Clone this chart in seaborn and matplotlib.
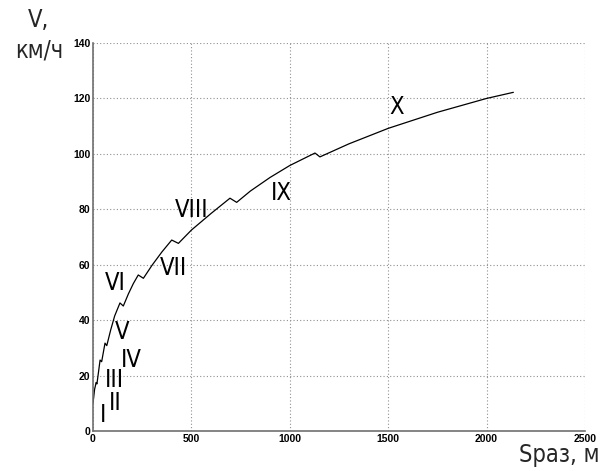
import matplotlib
matplotlib.use("Agg")
import matplotlib.pyplot as plt
from matplotlib import font_manager as fm
import seaborn as sns
import pandas as pd

# Acceleration path: speed vs. distance travelled, with gear-shift dips
distance_m = [0, 8, 16, 20, 36, 44, 61, 70, 90, 110, 137, 154, 180, 205, 230, 256,
              300, 350, 400, 434, 500, 600, 696, 730, 800, 900, 1000, 1128, 1153,
              1300, 1500, 1750, 2000, 2136]
speed_kmh = [10, 15, 17.5, 17, 25.6, 25, 31.7, 30.8, 36.5, 41.5, 46.2, 45.1, 49.5, 53.2,
             56.3, 55.1, 59.8, 64.6, 68.9, 67.7, 72.5, 78.5, 84, 82.5, 86.6, 91.5, 95.8,
             100.3, 98.9, 103.6, 109.2, 115, 120, 122.2]

# Gear labels and where they sit
gear_labels = ["I", "II", "III", "IV", "V", "VI", "VII", "VIII", "IX", "X"]
gear_s = [52, 115, 108, 197, 146, 112, 408, 501, 959, 1543]
gear_v = [5.8, 10, 18.4, 25.6, 35.8, 53.3, 58.7, 79.8, 85.8, 117]

x_ticks = [0, 500, 1000, 1500, 2000, 2500]
y_ticks = [0, 20, 40, 60, 80, 100, 120, 140]

df = pd.DataFrame({"s": distance_m, "v": speed_kmh})

sns.set_style("white")
plt.rcParams["font.family"] = ["Liberation Sans", "DejaVu Sans"]


def narrow_font(size):
    """Pick a narrow/condensed regular face with Cyrillic, if one is installed."""
    prefs = ["Liberation Sans Narrow", "DejaVu Sans", "Roboto Condensed",
             "Open Sans Condensed", "Noto Sans"]
    fonts = [f for f in fm.fontManager.ttflist
             if f.style == "normal" and f.weight in (400, "normal", "regular")]
    for name in prefs:
        for f in fonts:
            if f.name == name and ("Narrow" in f.name or "Condensed" in f.name
                                   or "condensed" in str(f.stretch)
                                   or "Condensed" in f.fname or "Narrow" in f.fname):
                return fm.FontProperties(fname=f.fname, size=size)
    return fm.FontProperties(family="DejaVu Sans", size=size)


fig = plt.figure(figsize=(6.13, 4.71), dpi=100)
ax = fig.add_axes([93 / 613, 1 - 431 / 471, (585 - 93) / 613, (431 - 43) / 471])

sns.lineplot(data=df, x="s", y="v", ax=ax, sort=False, estimator=None,
             color="black", linewidth=0.9)

ax.set_xlim(0, 2500)
ax.set_ylim(0, 140)
ax.set_xticks(x_ticks)
ax.set_yticks(y_ticks)
ax.set_xlabel("")
ax.set_ylabel("")
ax.grid(True, linestyle=(0, (1, 2)), color="#909090", linewidth=0.8)
ax.tick_params(direction="in", length=3, width=0.8, colors="#606060",
               labelcolor="black", labelsize=7.5, pad=2)
for lbl in ax.get_xticklabels() + ax.get_yticklabels():
    lbl.set_fontweight("bold")

for side in ("top", "right"):
    ax.spines[side].set_visible(False)
for side in ("left", "bottom"):
    ax.spines[side].set_color("#707070")
    ax.spines[side].set_linewidth(1.2)

fp = narrow_font(17)

for lab, s, v in zip(gear_labels, gear_s, gear_v):
    ax.text(s, v, lab, ha="center", va="center", color="black", fontproperties=fp)

fig.text(39 / 613, 1 - 20 / 471, "V,", ha="center", va="center", fontproperties=fp)
fig.text(39 / 613, 1 - 50 / 471, "км/ч", ha="center", va="center", fontproperties=fp)
fig.text(559 / 613, 1 - 455 / 471, "Sраз, м", ha="center", va="center", fontproperties=fp)

fig.savefig("out.png", dpi=100)
